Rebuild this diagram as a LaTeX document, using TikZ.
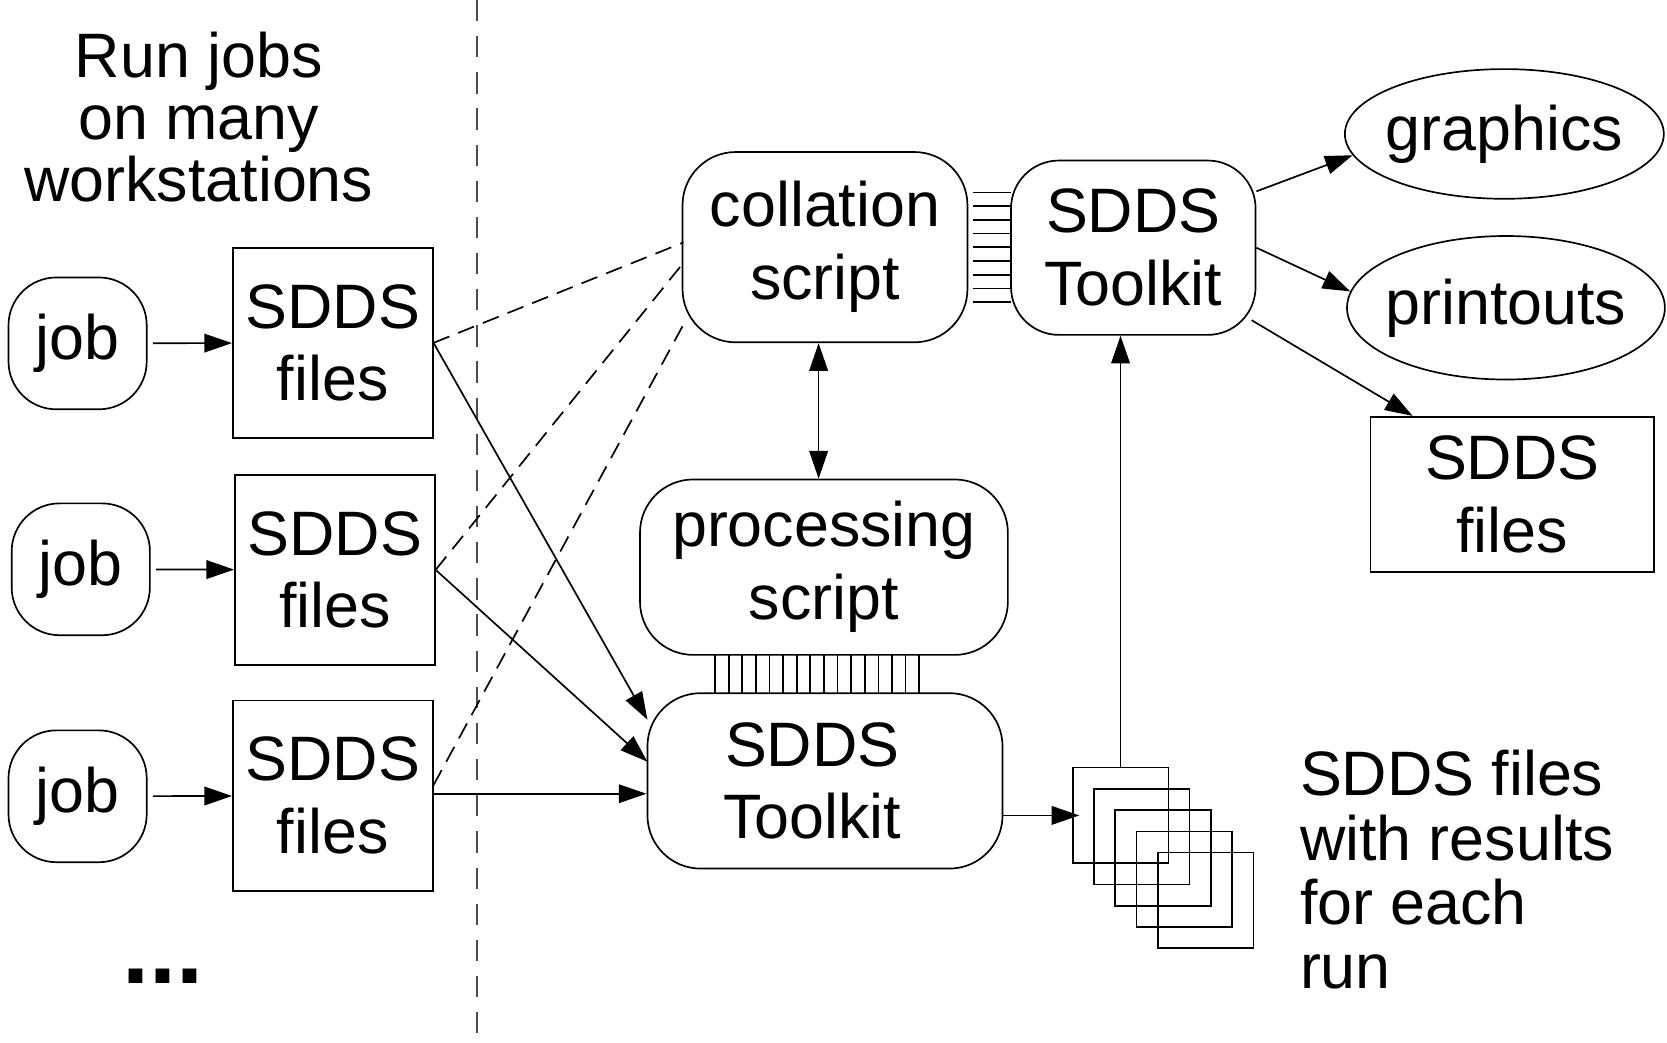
\documentclass[tikz,border=0pt]{standalone}
\usepackage{fontspec}
\setmainfont{Liberation Sans}
\usetikzlibrary{arrows.meta,shapes.geometric}
\begin{document}
\begin{tikzpicture}[x=0.1mm,y=-0.1mm, line width=0.45pt,
  every node/.style={font=\fontsize{16.8}{19.5}\selectfont, inner sep=0pt, align=center},
  tip/.style={-{Triangle[length=2.6mm,width=1.75mm]}},
  dtip/.style={{Triangle[length=2.6mm,width=1.75mm]}-{Triangle[length=2.6mm,width=1.75mm]}},
  dsh/.style={dash pattern=on 1.6mm off 0.9mm},
  sepline/.style={draw=black!70, line width=0.5pt, dash pattern=on 2mm off 1.4mm},
  jobbox/.style={draw, rounded corners=4.5mm, minimum width=13mm, minimum height=12.4mm},
  filebox/.style={draw, minimum width=18.8mm, minimum height=17.9mm},
  roundbox/.style={draw, rounded corners=5mm},
  oval/.style={draw, ellipse, inner xsep=-2mm},
  sqbox/.style={draw, minimum size=9mm}
]
\useasboundingbox (0,0) rectangle (1568,981);

% separator
\draw[sepline] (449,0) -- (449,981);

% left text
\node[font=\fontsize{16.8}{16.6}\selectfont] (run) at (187,110) {Run jobs\\on many\\workstations};

% jobs and files
\node[jobbox] (j1) at (73,323) {job};
\node[jobbox] (j2) at (76,535.5) {job};
\node[jobbox] (j3) at (73,749) {job};
\node[filebox] (f1) at (313,322.5) {SDDS\\files};
\node[filebox] (f2) at (315,536) {SDDS\\files};
\node[filebox] (f3) at (313,748.5) {SDDS\\files};
\node[font=\fontsize{26}{26}\selectfont\bfseries, anchor=base] (dots) at (153.6,925) {...};

% middle
\node[roundbox, minimum width=26.8mm, minimum height=17.9mm] (coll) at (776,232.5) {collation\\script};
\node[roundbox, rounded corners=4.5mm, minimum width=23mm, minimum height=16.4mm] (tk1) at (1066,233) {SDDS\\Toolkit};
\node[roundbox, minimum width=34.6mm, minimum height=16.5mm] (proc) at (775,533.5) {processing\\script};
\node[roundbox, minimum width=33.4mm, minimum height=16.5mm] (tk2) at (776,734.5) {\hspace*{-2.4mm}SDDS\\\hspace*{-2.4mm}Toolkit};

% right
\node[oval, minimum width=30mm, minimum height=12.2mm] (gr) at (1415,126) {graphics};
\node[oval, minimum width=29.9mm, minimum height=13.5mm] (pr) at (1416.5,289.5) {printouts};
\node[filebox, minimum width=26.7mm, minimum height=14.6mm] (f4) at (1422.5,465) {SDDS\\files};

% stacked files
\foreach \i in {0,...,4} \node[sqbox] (sq\i) at (1054+20*\i, 767+20*\i) {};
\node[anchor=north west, align=left, font=\fontsize{16.8}{17.2}\selectfont] (res) at (1222,705) {SDDS files\\with results\\for each\\run};

% comb connections
\foreach \i in {0,...,8} \draw (915,181+12.9*\i) -- (951,181+12.9*\i);
\foreach \i in {0,...,15} \draw (672.6+12.8*\i,616) -- (672.6+12.8*\i,652);

% job -> files
\draw[tip, shorten <=0.5mm] (j1) -- (f1);
\draw[tip, shorten <=0.5mm] (j2) -- (f2);
\draw[tip, shorten <=0.5mm] (j3) -- (f3);

% files -> toolkit
\coordinate (a1) at (609,677);
\coordinate (a2) at (609,716.5);
\coordinate (a3) at (608,746.6);
\draw[tip] (f1.east) -- (a1);
\draw[tip] (f2.east) -- (a2);
\draw[tip] (f3.east |- a3) -- (a3);

% files -> collation (dashed)
\coordinate (c1) at (643,228);
\coordinate (c2) at (643,247);
\coordinate (c3) at (646,299.5);
\draw[dsh] (f1.east) -- (c1);
\draw[dsh] (f2.east) -- (c2);
\draw[dsh] ([yshift=1mm]f3.east) -- (c3);

% collation <-> processing
\draw[dtip] ([xshift=-0.6mm]coll.south) -- ([xshift=-0.6mm]coll.south |- proc.north);

% toolkit outputs
\draw[tip] ([yshift=5.3mm]tk1.east) -- (gr.188);
\draw[tip] (tk1.east) -- (pr.174);
\draw[tip] ([shift={(-4.5,-14.6)}]tk1.south east) -- ([xshift=4.05mm]f4.north west);

% stacked files links
\draw[tip, shorten >=-0.7mm] (tk2.east |- sq0.west) -- (sq0.west);
\draw[tip] (sq0.north) -- (sq0.north |- tk1.south);
\end{tikzpicture}
\end{document}
